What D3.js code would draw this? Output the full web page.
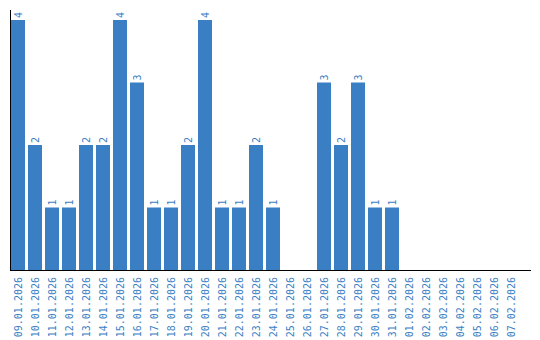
<!DOCTYPE html>
<html><head><meta charset="utf-8">
<script src="https://cdn.jsdelivr.net/npm/d3@7/dist/d3.min.js"></script>
<style>
html,body{margin:0;padding:0;background:#fff;}
svg{display:block;}
text{font-family:"DejaVu Sans Mono",monospace;}
</style></head>
<body><svg id="c" width="540" height="340"></svg>
<script>
const categories = ["09.01.2026","10.01.2026","11.01.2026","12.01.2026","13.01.2026","14.01.2026","15.01.2026","16.01.2026","17.01.2026","18.01.2026","19.01.2026","20.01.2026","21.01.2026","22.01.2026","23.01.2026","24.01.2026","25.01.2026","26.01.2026","27.01.2026","28.01.2026","29.01.2026","30.01.2026","31.01.2026","01.02.2026","02.02.2026","03.02.2026","04.02.2026","05.02.2026","06.02.2026","07.02.2026"];
const values = [4,2,1,1,2,2,4,3,1,1,2,4,1,1,2,1,0,0,3,2,3,1,1,0,0,0,0,0,0,0];

const color = "#3a7fc4";
const svg = d3.select("#c");
const x = d3.scaleBand().domain(categories).range([11, 518]).paddingInner(3/17).paddingOuter(0);
const y = d3.scaleLinear().domain([0, 4]).range([270, 20]);

svg.selectAll("rect.bar").data(categories).join("rect")
  .attr("class","bar")
  .attr("x", d => x(d))
  .attr("width", x.bandwidth())
  .attr("y", (d,i) => y(values[i]))
  .attr("height", (d,i) => y(0) - y(values[i]))
  .attr("fill", color);

svg.selectAll("text.val").data(categories.filter((d,i)=>values[i]>0)).join("text")
  .attr("class","val")
  .attr("transform", d => {
    const v = values[categories.indexOf(d)];
    return `translate(${x(d)+x.bandwidth()/2+3.5},${y(v)-2}) rotate(-90)`;
  })
  .attr("text-anchor","start")
  .attr("font-size", 10)
  .attr("fill", color)
  .text(d => values[categories.indexOf(d)]);

// axes lines
svg.append("line").attr("x1",10.5).attr("x2",10.5).attr("y1",10).attr("y2",270.5).attr("stroke","#000").attr("stroke-width",1);
const xAxis = d3.axisBottom(x).tickSize(0).tickPadding(0);
const gx = svg.append("g").attr("transform","translate(0,270)").call(xAxis);
gx.select(".domain").attr("d","M10,0.5H531").attr("stroke","#000");
gx.selectAll(".tick text")
  .attr("font-family","DejaVu Sans Mono, monospace")
  .attr("font-size",10)
  .attr("fill",color)
  .attr("text-anchor","end")
  .attr("dy",null)
  .attr("y",0)
  .attr("transform","translate(3.5,7) rotate(-90)");
</script></body></html>
